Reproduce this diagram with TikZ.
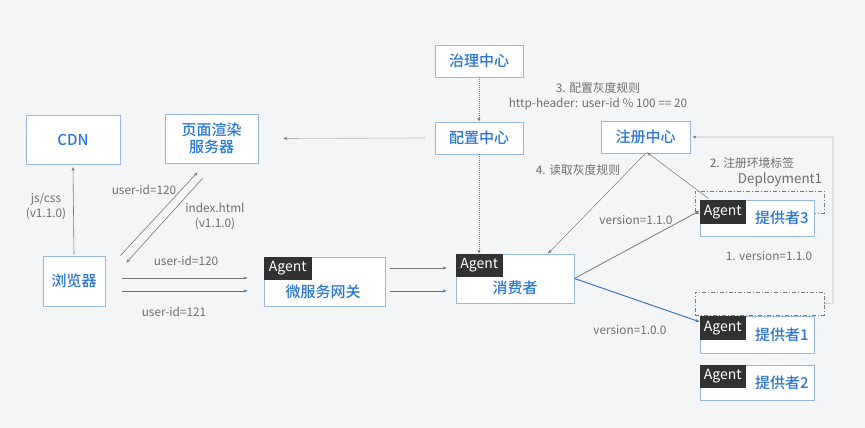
\documentclass[tikz,border=0pt]{standalone}
\usepackage{fontspec}
\setmainfont{Noto Sans CJK SC}
\newfontfamily\boxfont{Noto Sans CJK SC}[UprightFont=* Medium]
\usetikzlibrary{arrows.meta}
\definecolor{bg}{RGB}{244,245,247}
\definecolor{boxline}{RGB}{150,185,228}
\definecolor{boxtext}{RGB}{40,118,214}
\definecolor{lbl}{RGB}{110,110,110}
\definecolor{tag}{RGB}{50,50,50}
\definecolor{conn}{RGB}{120,120,120}
\definecolor{bconn}{RGB}{60,120,200}
\tikzset{
  box/.style={draw=boxline, line width=0.8pt, fill=white, inner sep=0pt},
  boxtxt/.style={text=boxtext, font=\boxfont\fontsize{15}{17}\selectfont, align=center, inner sep=0pt},
  agenttag/.style={fill=tag, text=white, font=\fontsize{14}{15}\selectfont, inner sep=0pt, anchor=north west},
  lab/.style={text=lbl, font=\fontsize{11.8}{15}\selectfont, align=center, inner sep=0pt},
  tip/.style={-{Stealth[length=4pt,width=3pt]}},
  gline/.style={draw=conn, line width=0.6pt, tip},
  bline/.style={draw=bconn, line width=0.8pt, tip},
  dline/.style={draw=conn, line width=0.6pt, dash pattern=on 1pt off 1pt, tip},
  ddbox/.style={draw=conn, line width=0.7pt, dash pattern=on 4pt off 2pt on 1pt off 2pt}
}
\begin{document}
\begin{tikzpicture}[x=1pt,y=-1pt]
\useasboundingbox (0,0) rectangle (865,428);
\fill[bg] (0,0) rectangle (865,428);

% plain boxes
\node[box, minimum width=94, minimum height=49] (cdn) at (73,140) {};
\node[boxtxt] (cdnt) at (cdn) {CDN};
\node[box, minimum width=93, minimum height=49] (srv) at (211.5,138.5) {};
\node[boxtxt] (srvt) at (srv) {页面渲染\\服务器};
\node[box, minimum width=88, minimum height=32] (gov) at (479,61) {};
\node[boxtxt] (govt) at (gov) {治理中心};
\node[box, minimum width=88, minimum height=32] (cfg) at (479,138) {};
\node[boxtxt] (cfgt) at (cfg) {配置中心};
\node[box, minimum width=89, minimum height=32] (reg) at (645.5,137) {};
\node[boxtxt] (regt) at (reg) {注册中心};
\node[box, minimum width=62, minimum height=50] (browser) at (74,281) {};
\node[boxtxt] (browsert) at (browser) {浏览器};

% agent boxes
\node[box, minimum width=121, minimum height=49] (gw) at (324.5,281.5) {};
\node[agenttag, minimum width=48, minimum height=23] (gwa) at (gw.north west) {Agent};
\node[boxtxt] (gwt) at (323,292) {微服务网关};
\node[box, minimum width=118, minimum height=49] (cons) at (515,278.5) {};
\node[agenttag, minimum width=47, minimum height=23] (consa) at (cons.north west) {Agent};
\node[boxtxt] (const) at (515,288) {消费者};

% dash-dot deployment boxes (behind providers)
\node[ddbox, minimum width=129, minimum height=22] (dep1) at (759.5,202) {};
\node[ddbox, minimum width=129, minimum height=23] (dep2) at (759.5,303.5) {};

\node[box, minimum width=114, minimum height=36] (p3) at (757,218) {};
\node[agenttag, minimum width=46, minimum height=24] (p3a) at (p3.north west) {Agent};
\node[boxtxt] (p3t) at (782,218) {提供者3};
\node[box, minimum width=114, minimum height=37] (p1) at (757,334.5) {};
\node[agenttag, minimum width=46, minimum height=24] (p1a) at (p1.north west) {Agent};
\node[boxtxt] (p1t) at (782,335) {提供者1};
\node[box, minimum width=114, minimum height=35] (p2) at (757,382.5) {};
\node[agenttag, minimum width=46, minimum height=23] (p2a) at (p2.north west) {Agent};
\node[boxtxt] (p2t) at (782,383) {提供者2};

% connectors
\draw[gline] ([yshift=1]browser.north) -- ([yshift=-2]cdn.south);
\draw[gline] ([shift={(15,0)}]browser.north east) -- ([shift={(-14,9)}]srv.south);
\draw[gline] ([shift={(-9,15)}]srv.south) -- ([shift={(21,7)}]browser.north east);
\draw[gline] ([shift={(17,-3)}]browser.east) -- ([shift={(-16,-3.5)}]gw.west);
\draw[bline] ([shift={(17,10)}]browser.east) -- ([shift={(-16,9.5)}]gw.west);
\draw[gline] ([shift={(5,-13.5)}]gw.east) -- ([shift={(-9,-10.5)}]cons.west);
\draw[bline] ([shift={(5,9.5)}]gw.east) -- ([shift={(-9,12.5)}]cons.west);

\draw[dline] ([xshift=-10]cfg.west) -- ([xshift=25]srv.east);
\draw[dline] (gov.south) -- (cfg.north);
\draw[dline] (cfg.south) -- (cfg.south |- cons.north);
\draw[gline, line width=0.5pt] (reg.south) -- ([xshift=33]cons.north);
\draw[gline, line width=0.5pt] ([shift={(9,-1)}]p3.north west) -- ([xshift=1.5,yshift=1]reg.south);
\draw[gline, line width=0.8pt] (cons.east) -- ([yshift=1]p3a.west);
\draw[bline, line width=1pt] (cons.east) -- ([yshift=6]p1a.west);
\coordinate (lpR) at (833,303);
\draw[dline] (dep2.east) -- (lpR) -- (lpR |- reg.east) -- ([xshift=2]reg.east);

% labels
\node[lab] (l1) at (46,206) {js/css\\(v1.1.0)};
\node[lab] (l2) at (144,190) {user-id=120};
\node[lab] (l3) at (215,216) {index.html\\(v1.1.0)};
\node[lab] (l4) at (186,261) {user-id=120};
\node[lab] (l5) at (174,312) {user-id=121};
\node[lab] (l6) at (598,96) {3. 配置灰度规则\\http-header: user-id \% 100 == 20};
\node[lab] (l7) at (578,170) {4. 读取灰度规则};
\node[lab] (l8) at (752,163) {2. 注册环境标签};
\node[lab, font=\fontsize{13.4}{15}\selectfont] (l9) at (780,180) {Deployment1};
\node[lab] (l10) at (636,220) {version=1.1.0};
\node[lab] (l11) at (630,330) {version=1.0.0};
\node[lab] (l12) at (769,256) {1. version=1.1.0};
\end{tikzpicture}
\end{document}
